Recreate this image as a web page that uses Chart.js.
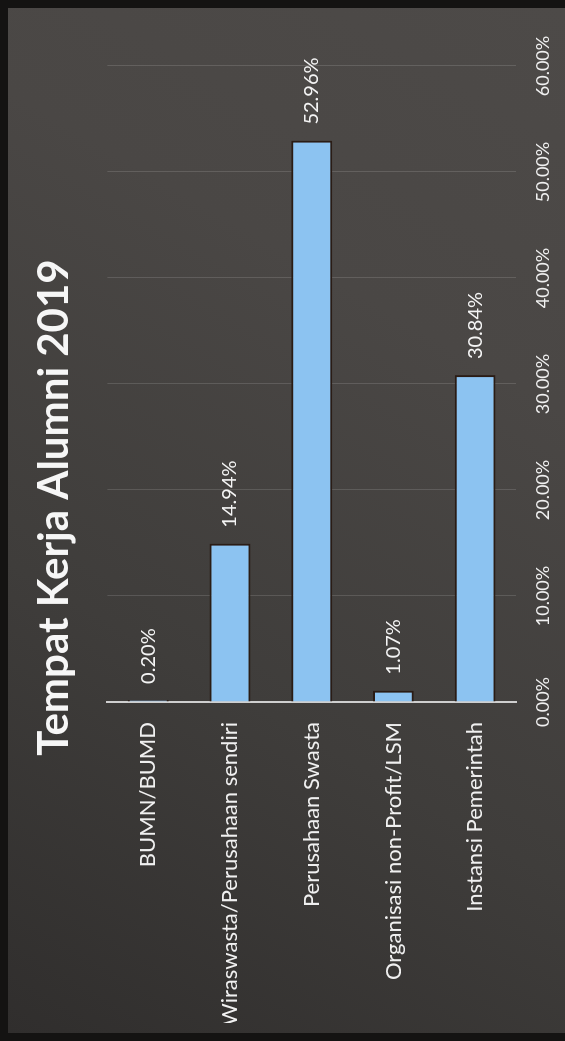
<!DOCTYPE html>
<html>
<head>
<meta charset="utf-8">
<script src="https://cdn.jsdelivr.net/npm/chart.js@4.4.1/dist/chart.umd.min.js"></script>
<style>
    html, body {
        margin: 0;
        padding: 0;
        width: 565px;
        height: 1041px;
        overflow: hidden;
        background: #141312;
    }
    #panel {
        position: absolute;
        left: 8px;
        top: 8px;
        width: 557px;
        height: 1025px;
        background: linear-gradient(30deg, #302e2d 0%, #3f3d3b 35%, #4a4745 70%, #4d4a48 100%);
    }
    #chart {
        position: absolute;
        left: 0;
        top: 0;
        transform-origin: 0 0;
        transform: translate(0, 1025px) rotate(-90deg);
    }
</style>
</head>
<body>
<div id="panel"><canvas id="chart" width="1025" height="557"></canvas></div>
<script>
const categories = [
    "BUMN/BUMD",
    "Wiraswasta/Perusahaan sendiri",
    "Perusahaan Swasta",
    "Organisasi non-Profit/LSM",
    "Instansi Pemerintah",
];
const percentages = [0.2, 14.94, 52.96, 1.07, 30.84];
const axisMax = 60;
const axisStep = 10;

Chart.defaults.font.family = "Lato, 'Open Sans', sans-serif";
Chart.defaults.color = "#f2f2f2";

// value labels written just past the end of each bar
const valueLabels = {
    id: "valueLabels",
    afterLayout(chart) {
        // title sits a bit right of the full-width centre in the original
        chart.titleBlock.left += 74;
    },
    afterDatasetsDraw(chart) {
        const ctx = chart.ctx;
        const meta = chart.getDatasetMeta(0);
        ctx.save();
        ctx.font = "20px Lato";
        ctx.fillStyle = "#f4f4f4";
        ctx.textAlign = "left";
        ctx.textBaseline = "middle";
        meta.data.forEach((bar, i) => {
            ctx.fillText(percentages[i].toFixed(2) + "%", bar.x + 16, bar.y);
        });
        ctx.restore();
    },
};

new Chart(document.getElementById("chart"), {
    type: "bar",
    data: {
        labels: categories,
        datasets: [
            {
                data: percentages,
                backgroundColor: "#8cc3f1",
                borderColor: "#2a1c15",
                borderWidth: 2,
                borderSkipped: "start",
                barPercentage: 0.5,
                categoryPercentage: 1,
            },
        ],
    },
    options: {
        indexAxis: "y",
        responsive: false,
        animation: false,
        devicePixelRatio: 1,
        layout: {
            padding: { left: 10, right: 58, top: 0, bottom: 0 },
        },
        plugins: {
            legend: { display: false },
            tooltip: { enabled: false },
            title: {
                display: true,
                text: "Tempat Kerja Alumni 2019",
                color: "#f6f6f6",
                font: { size: 42, weight: "bold" },
                padding: { top: 21, bottom: 28 },
            },
        },
        scales: {
            x: {
                min: 0,
                max: axisMax,
                ticks: {
                    stepSize: axisStep,
                    padding: 16,
                    color: "#f0f0f0",
                    font: { size: 18 },
                    callback: (v) => v.toFixed(2) + "%",
                },
                grid: {
                    color: "rgba(255,255,255,0.13)",
                    lineWidth: 1,
                    drawTicks: false,
                },
                border: { display: false },
                afterFit: (scale) => {
                    scale.height = 49;
                },
            },
            y: {
                ticks: {
                    padding: 20,
                    color: "#f0f0f0",
                    font: { size: 22 },
                },
                grid: { display: false, drawTicks: false },
                border: { display: true, color: "#cfcfcf", width: 2 },
                afterFit: (scale) => {
                    scale.width = 321;
                },
            },
        },
    },
    plugins: [valueLabels],
});
</script>
</body>
</html>
